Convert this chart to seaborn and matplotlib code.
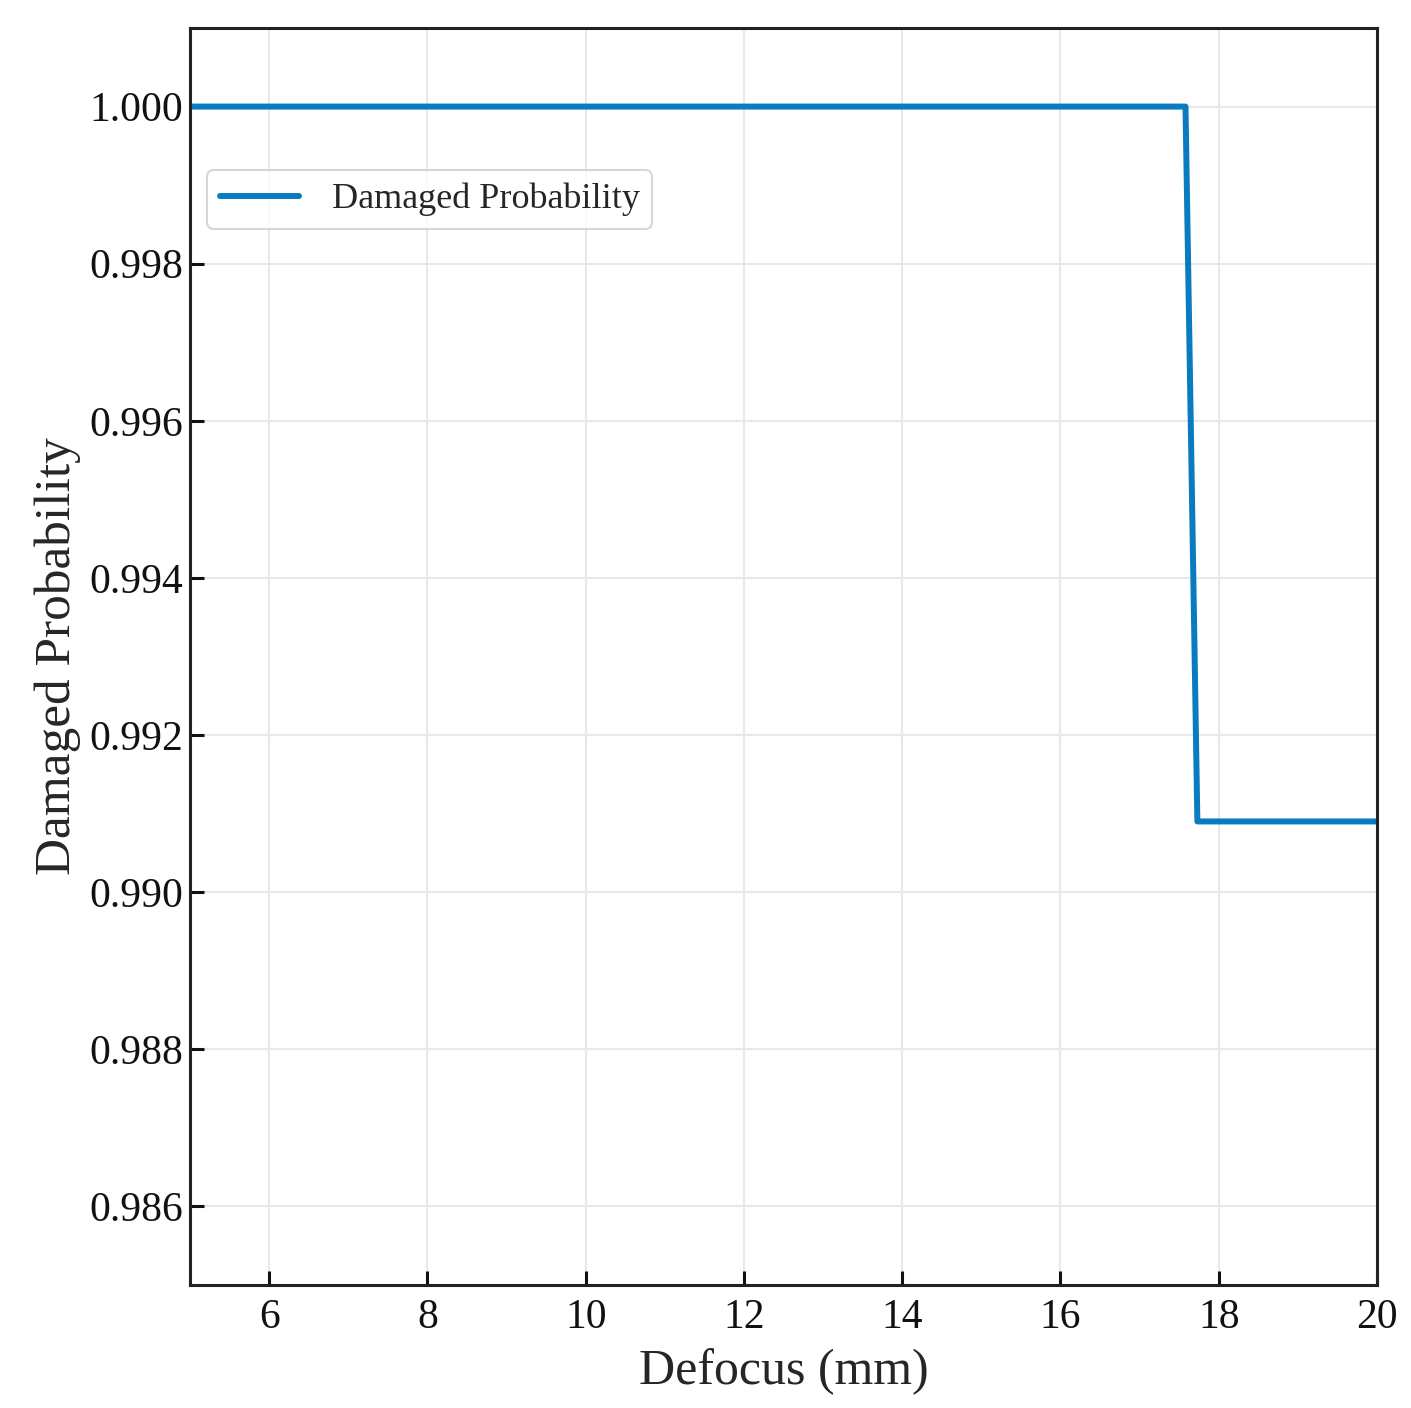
import matplotlib
matplotlib.use("Agg")
import matplotlib.pyplot as plt
import seaborn as sns
import pandas as pd

# Data
defocus_mm = [5.0, 17.58, 17.73, 20.0]
damaged_probability = [1.0, 1.0, 0.9909, 0.9909]
series_name = "Damaged Probability"
x_ticks = [6, 8, 10, 12, 14, 16, 18, 20]
y_ticks = [0.986, 0.988, 0.990, 0.992, 0.994, 0.996, 0.998, 1.000]

sns.set_theme(style="white")
plt.rcParams['font.family'] = ['Liberation Serif', 'DejaVu Serif']

df = pd.DataFrame({"Defocus": defocus_mm, "Prob": damaged_probability, "Series": series_name})

fig = plt.figure(figsize=(14.11, 14.08), dpi=100)
ax = fig.add_axes([0.1347, 0.0874, 0.8412, 0.8927])

sns.lineplot(data=df, x="Defocus", y="Prob", hue="Series", palette=["#0a7bbf"],
             linewidth=4.3, ax=ax, sort=False, estimator=None)

ax.set_xlim(5, 20)
ax.set_ylim(0.985, 1.001)
ax.set_xticks(x_ticks)
ax.set_yticks(y_ticks)
ax.set_yticklabels([f"{v:.3f}" for v in y_ticks])
ax.grid(True, color="#e8e8e8", linewidth=1.5)
ax.set_axisbelow(True)

for s in ax.spines.values():
    s.set_linewidth(2.2)
    s.set_color("#222222")
ax.tick_params(axis="both", which="major", direction="in", length=10, width=2.2,
               labelsize=30, colors="#111111", left=True, bottom=True)
ax.tick_params(axis="y", pad=5)
ax.tick_params(axis="x", pad=10)

ax.set_xlabel("Defocus (mm)", fontsize=36, labelpad=8)
ax.set_ylabel("Damaged Probability", fontsize=37, labelpad=6)

leg = ax.legend(loc="upper left", bbox_to_anchor=(0.0143, 0.887), borderaxespad=0,
                fontsize=26, frameon=True, handlelength=2.2, handletextpad=0.9,
                borderpad=0.35, fancybox=True)
leg.get_frame().set_edgecolor("#cccccc")
leg.get_frame().set_linewidth(1.5)
for line in leg.get_lines():
    line.set_linewidth(4.3)

fig.savefig("out.png", dpi=100)
